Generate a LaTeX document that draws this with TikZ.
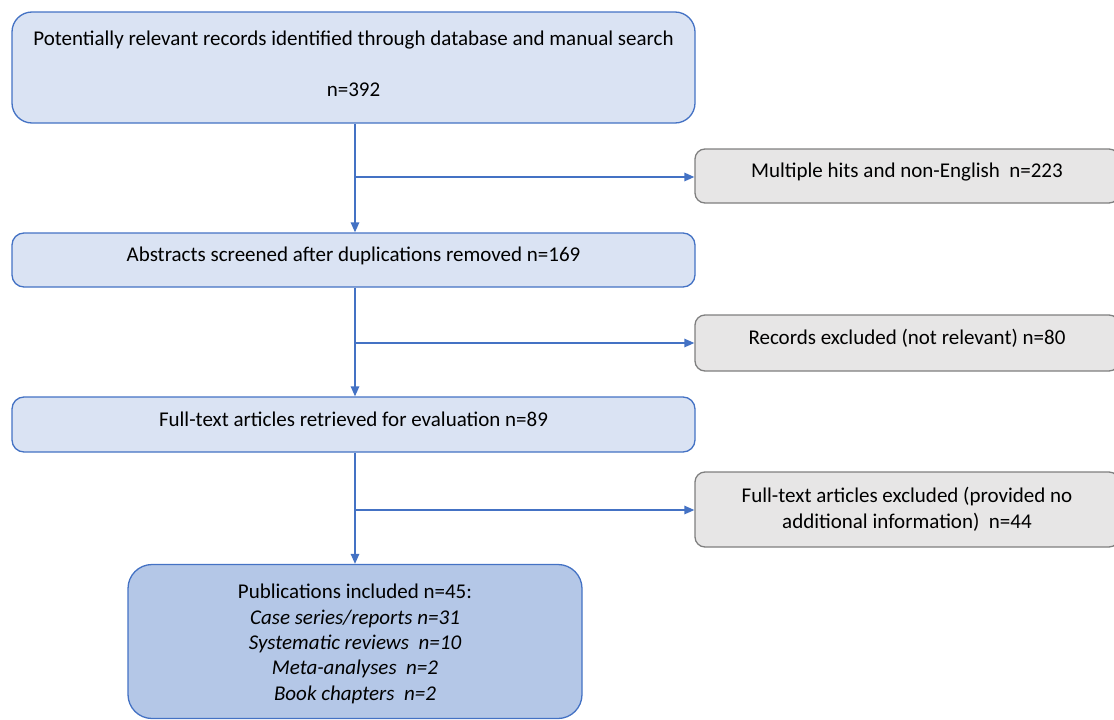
\documentclass[tikz,border=0pt]{standalone}
\usepackage{fontspec}
\setmainfont{Carlito}
\usetikzlibrary{arrows.meta}
\definecolor{bluefill}{HTML}{DAE3F3}
\definecolor{blueline}{HTML}{4472C4}
\definecolor{grayfill}{HTML}{E7E6E6}
\definecolor{grayline}{HTML}{7F7F7F}
\definecolor{darkfill}{HTML}{B4C7E7}
\begin{document}
\begin{tikzpicture}[x=1pt,y=-1pt,
  txt/.style={font=\fontsize{21}{25.5}\selectfont, align=center, inner sep=0pt},
  oneline/.style={text height=10.5pt, text depth=7pt},
  bluebox/.style={txt, draw=blueline, fill=bluefill, line width=1.3pt, rounded corners=12pt},
  graybox/.style={txt, draw=grayline, fill=grayfill, line width=1.3pt, rounded corners=10pt},
  finalbox/.style={txt, draw=blueline, fill=darkfill, line width=1.3pt, rounded corners=24pt},
  arr/.style={draw=blueline, line width=1.3pt, -{Triangle[length=10pt,width=8.5pt]}}]
\useasboundingbox (0,0) rectangle (1114,720);
\node[bluebox, rounded corners=20pt, minimum width=683pt, minimum height=111pt, font=\fontsize{21}{25.35}\selectfont] (top) at (353.5,67.5)
  {Potentially relevant records identified through database and manual search\\ \mbox{}\\ n=392\rule[-8pt]{0pt}{0pt}};
\node[bluebox, oneline, minimum width=683pt, minimum height=54pt] (abs) at (353.5,260)
  {Abstracts screened after duplications removed n=169};
\node[bluebox, oneline, minimum width=683pt, minimum height=55pt] (full) at (353.5,424.5)
  {Full-text articles retrieved for evaluation n=89};
\node[finalbox, minimum width=454pt, minimum height=154pt, font=\fontsize{21}{25.3}\selectfont] (incl) at (355,641.5)
  {\rule{0pt}{19.5pt}Publications included n=45:\\ \textit{Case series/reports n=31}\\ \textit{Systematic reviews\ \ n=10}\\ \textit{Meta-analyses\ \ n=2}\\ \textit{Book chapters\ \ n=2}};
\node[graybox, oneline, minimum width=424pt, minimum height=54pt] (r1) at (907,176)
  {Multiple hits and non-English\ \ n=223};
\node[graybox, oneline, minimum width=424pt, minimum height=56pt] (r2) at (907,343)
  {Records excluded (not relevant) n=80};
\node[graybox, minimum width=424pt, minimum height=75pt, font=\fontsize{21}{26}\selectfont] (r3) at (907,509.5)
  {Full-text articles excluded (provided no\\ additional information)\ \ n=44};
\coordinate (b1) at (355,177);
\coordinate (b2) at (355,343);
\coordinate (b3) at (355,510);
\draw[arr] (b1 |- top.south) -- (b1 |- abs.north);
\draw[arr] (b1) -- (b1 -| r1.west);
\draw[arr] (b2 |- abs.south) -- (b2 |- full.north);
\draw[arr] (b2) -- (b2 -| r2.west);
\draw[arr] (b3 |- full.south) -- (b3 |- incl.north);
\draw[arr] (b3) -- (b3 -| r3.west);
\end{tikzpicture}
\end{document}
